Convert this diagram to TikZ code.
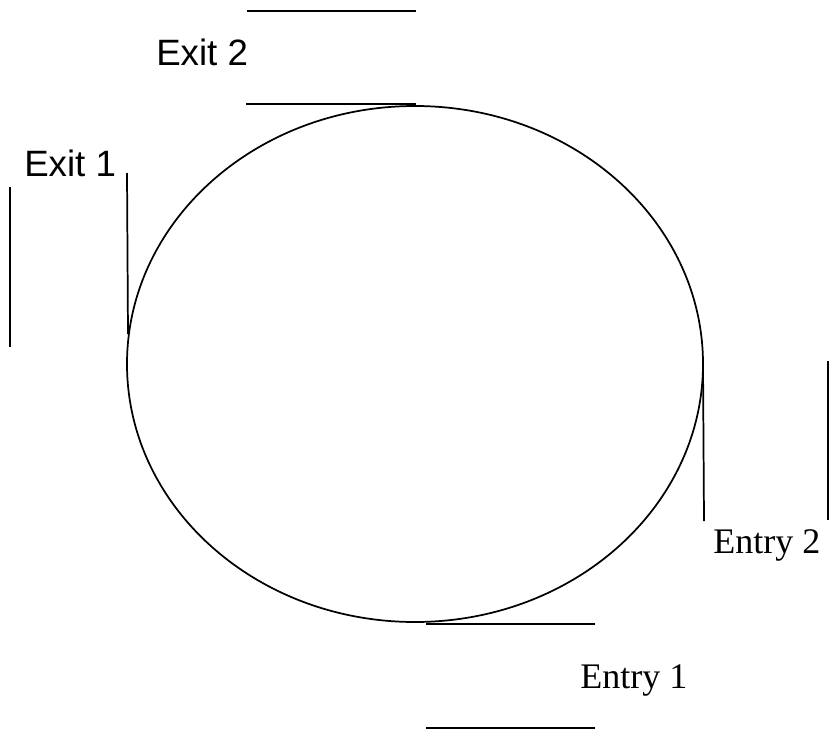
\documentclass[tikz,border=0pt]{standalone}
\usepackage{fontspec}
\setmainfont{Liberation Serif}
\setsansfont{Liberation Sans}
\tikzset{
  ln/.style={line width=1.3pt, black},
  sanslabel/.style={font=\sffamily\fontsize{27.5}{31}\selectfont, anchor=base west, inner sep=0pt},
  seriflabel/.style={font=\rmfamily\fontsize{27}{31}\selectfont, anchor=base west, inner sep=0pt}
}
\begin{document}
\begin{tikzpicture}[x=0.75pt, y=-0.75pt]
\useasboundingbox (0,0) rectangle (830,731);
% roundabout
\draw[ln] (415,364) ellipse [x radius=216pt, y radius=193.5pt];
% Exit 2
\draw[ln] (247,11) -- (416,11);
\draw[ln] (246,104) -- (416,104);
\node[sanslabel] (exit2) at (156,66) {Exit 2};
% Exit 1
\draw[ln] (10,187) -- (10,347);
\draw[ln] (127,173) -- (128,334);
\node[sanslabel] (exit1) at (24,176) {Exit 1};
% Entry 2
\draw[ln] (703,366) -- (704,521);
\draw[ln] (828,361) -- (828,520);
\node[seriflabel] (entry2) at (713,553) {Entry 2};
% Entry 1
\draw[ln] (426,624) -- (595,624);
\draw[ln] (426,728) -- (595,728);
\node[seriflabel] (entry1) at (580,688) {Entry 1};
\end{tikzpicture}
\end{document}
